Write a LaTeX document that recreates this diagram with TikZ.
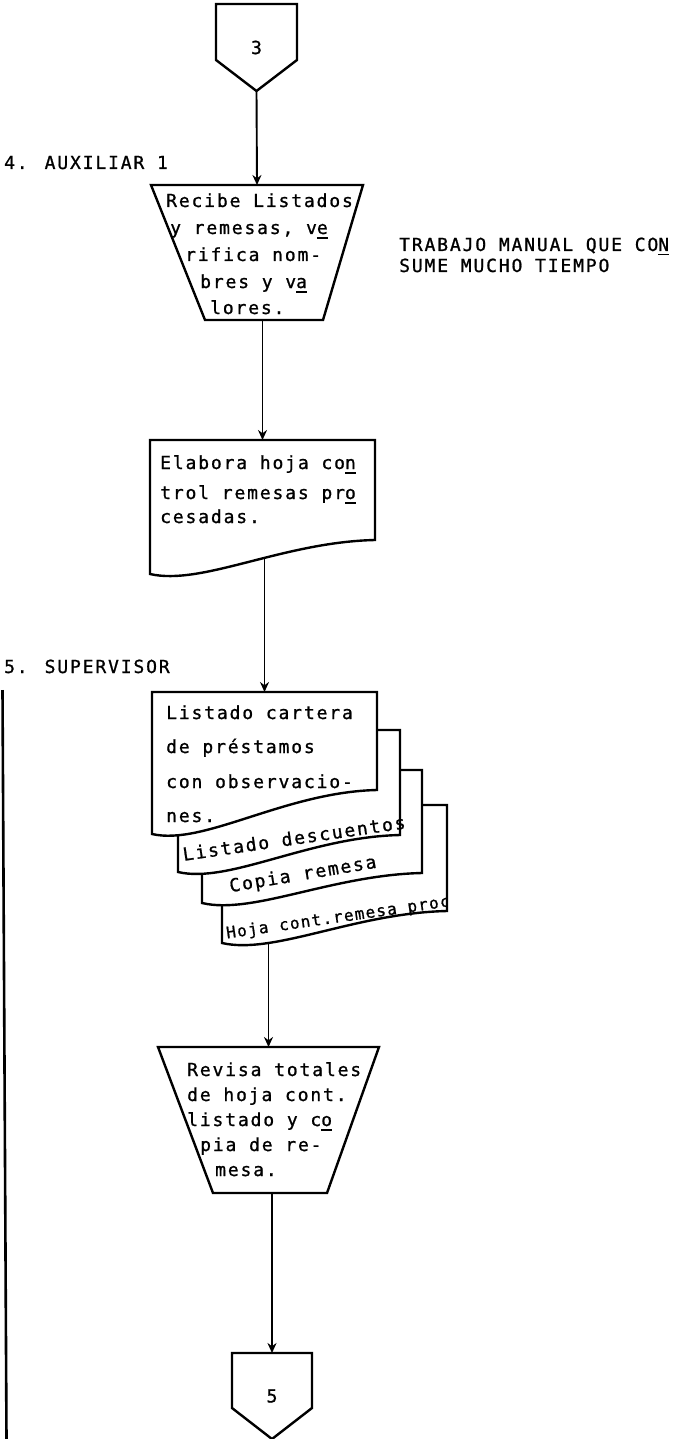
\documentclass[tikz,border=0pt]{standalone}
\usepackage{fontspec}
\usetikzlibrary{calc,arrows.meta}
\newfontfamily\tw[LetterSpace=10.3,FakeBold=1]{DejaVu Sans Mono}
\newfontfamily\twnarrow[LetterSpace=8,FakeBold=1]{DejaVu Sans Mono}

% underlined letter (typewriter syllable mark)
\newcommand\usc[1]{\leavevmode\rlap{\raisebox{-4.5pt}{\rule{11pt}{1.8pt}}}#1}
% inverted trapezoid drawn on a frame node: node, left inset, right inset
\newcommand\trapout[3]{\draw[outline] (#1.north west) -- (#1.north east) -- ($(#1.south east)+(-#3,0)$) -- ($(#1.south west)+(#2,0)$) -- cycle;}
% document sheet with wavy bottom: node, width, extra drop at the left
\newcommand\docout[3]{\draw[outline] (#1.south east) -- (#1.north east) -- (#1.north west) -- ($(#1.south west)+(0,#3)$) .. controls +({0.23*#2},12) and +({-0.41*#2},2) .. (#1.south east) -- cycle;}
% off-page connector: node, height of the pointed part
\newcommand\offpage[2]{\draw[outline] (#1.north west) -- (#1.north east) -- ($(#1.south east)+(0,-#2)$) -- (#1.south) -- ($(#1.south west)+(0,-#2)$) -- cycle;}

\tikzset{
  frame/.style={shape=rectangle, inner sep=0pt, outer sep=0pt, draw=none},
  outline/.style={draw=black, line width=2.4pt, fill=white, line join=miter},
  flow/.style={draw=black, line width=1.9pt, -{Stealth[length=10pt,width=9pt]}},
  txt/.style={inner sep=0pt, anchor=base west, font=\tw\fontsize{18}{21}\selectfont},
  slant/.style={inner sep=0pt, font=\tw\fontsize{18}{21}\selectfont},
}

\begin{document}
\begin{tikzpicture}[x=1pt,y=-1pt]
\path[use as bounding box] (0,0) rectangle (683,1439);

% ---- frames of the flow shapes ----
\node[frame, minimum width=81pt, minimum height=87pt]  (c3) at (256.5,47.5) {};
\node[frame, minimum width=212pt, minimum height=135pt] (t1) at (257,252.5) {};
\node[frame, minimum width=225pt, minimum height=100pt] (d1) at (262.5,490) {};
\node[frame, minimum width=225pt, minimum height=98pt]  (s1) at (264.5,741) {};
\node[frame, minimum width=222pt, minimum height=105pt] (s2) at (289,782.5) {};
\node[frame, minimum width=220pt, minimum height=103pt] (s3) at (312,821.5) {};
\node[frame, minimum width=225pt, minimum height=106pt] (s4) at (334.5,858) {};
\node[frame, minimum width=221pt, minimum height=146pt] (t2) at (268.5,1120) {};
\node[frame, minimum width=80pt, minimum height=86pt]  (c5) at (272,1396) {};

% ---- flow lines (drawn first, shapes are filled over them) ----
\draw[flow] (c3.south) -- (t1.north);
\draw[flow] (d1.north |- t1.south) -- (d1.north);
\draw[flow] (s1.north |- d1.center) -- (s1.north);
\draw[flow] (t2.north |- s4.center) -- (t2.north);
\draw[flow] (c5.north |- t2.south) -- (c5.north);

% ---- lane line of the supervisor ----
\coordinate (lanetop) at (2.5,690);
\coordinate (lanebot) at (6.5,1439);
\draw[line width=2.6pt] (lanetop) -- (lanebot);

% ---- connector 3 ----
\offpage{c3}{31}
\node[slant] (c3num) at (c3) {3};

% ---- step 4 ----
\node[txt] (lane4) at (4,169) {4. AUXILIAR 1};
\trapout{t1}{54}{40}
\foreach \x/\y/\s [count=\i] in {
  166/207/{Recibe Listados},
  170/234/{y remesas, v\usc{e}},
  185/261/{rifica nom-},
  200/288/{bres y v\usc{a}},
  210/314/{lores.}}
  \node[txt] (t1l\i) at (\x,\y) {\s};

\node[txt] (note1) at (399,251) {TRABAJO MANUAL QUE CO\usc{N}};
\node[txt] (note2) at (399,272) {SUME MUCHO TIEMPO};

\docout{d1}{225}{34}
\foreach \x/\y/\s [count=\i] in {
  160/469/{Elabora hoja co\usc{n}},
  160/499/{trol remesas pr\usc{o}},
  160/523/{cesadas.}}
  \node[txt] (d1l\i) at (\x,\y) {\s};

% ---- step 5 ----
\node[txt] (lane5) at (4,673) {5. SUPERVISOR};

% stacked documents, back to front
\docout{s4}{225}{32}
\begin{scope}
  \clip (s4.north west) rectangle ($(s4.south east)+(-1,60)$);
  \node[inner sep=0pt, rotate=8.2, font=\twnarrow\fontsize{16}{18}\selectfont] (s4txt) at (338,918) {Hoja cont.remesa proc};
\end{scope}
\docout{s3}{220}{30}
\node[slant, rotate=9.5] (s3txt) at (303,875) {Copia remesa};
\docout{s2}{222}{37}
\node[slant, rotate=8.3] (s2txt) at (294,838) {Listado descuentos};
\docout{s1}{225}{44}
\foreach \x/\y/\s [count=\i] in {
  166/719/{Listado cartera},
  166/753/{de préstamos},
  166/788/{con observacio-},
  166/822/{nes.}}
  \node[txt] (s1l\i) at (\x,\y) {\s};

\trapout{t2}{55}{52}
\foreach \x/\y/\s [count=\i] in {
  187/1076/{Revisa totales},
  187/1101/{de hoja cont.},
  187/1126/{listado y c\usc{o}},
  200/1151/{pia de re-},
  215/1176/{mesa.}}
  \node[txt] (t2l\i) at (\x,\y) {\s};

% ---- connector 5 ----
\offpage{c5}{31}
\node[slant] (c5num) at (c5) {5};
\end{tikzpicture}
\end{document}
